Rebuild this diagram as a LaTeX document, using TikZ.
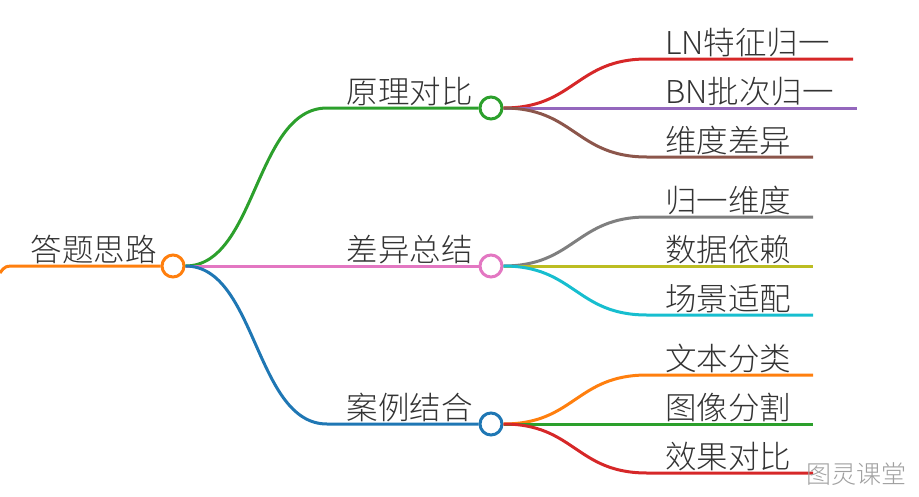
\documentclass[tikz,border=0pt]{standalone}
\usepackage{fontspec}
\setmainfont{Noto Sans CJK SC}[UprightFont=* Light]
\usetikzlibrary{positioning}

\definecolor{cOrange}{HTML}{FF7F0E}
\definecolor{cGreen}{HTML}{2CA02C}
\definecolor{cBlue}{HTML}{1F77B4}
\definecolor{cPink}{HTML}{E377C2}
\definecolor{cRed}{HTML}{D62728}
\definecolor{cPurple}{HTML}{9467BD}
\definecolor{cBrown}{HTML}{8C564B}
\definecolor{cGrey}{HTML}{7F7F7F}
\definecolor{cOlive}{HTML}{BCBD22}
\definecolor{cCyan}{HTML}{17BECF}
\definecolor{cText}{HTML}{333333}
\definecolor{cMark}{HTML}{A0A0A0}

\tikzstyle{hub} = [circle, draw, line width=3pt, fill=white, minimum size=22pt, inner sep=0pt]
\tikzstyle{topic} = [inner sep=0pt, text=cText, font=\fontsize{31.5}{36}\selectfont]
\tikzstyle{branch} = [line width=3pt]

\begin{document}
\begin{tikzpicture}[x=1pt, y=-1pt]
    \useasboundingbox (0,0) rectangle (919,496);

    \node [hub, draw=cOrange] (root) at (173,266) {};
    \node [topic, anchor=base east] (rootlbl) at (157,261) {答题思路};
    \coordinate (tail) at (0,273);
    \draw [branch, cOrange] (tail) .. controls (5,266) .. (18,266) -- (root.west);

    \node [hub, draw=cGreen] (yuanli) at (491,108) {};
    \node [hub, draw=cPink] (chayi) at (491,266) {};
    \node [hub, draw=cBlue] (anli) at (491,424) {};
    \node [topic, anchor=base east] (yuanlilbl) at (473,103) {原理对比};
    \node [topic, anchor=base east] (chayilbl) at (473,261) {差异总结};
    \node [topic, anchor=base east] (anlilbl) at (473,419) {案例结合};

    \coordinate (yuanliIn) at (327,108);
    \coordinate (anliIn) at (327,424);
    \draw [branch, cGreen] (root.east) .. controls +(71,0) and +(-72,0) .. (yuanliIn) -- (yuanli.west);
    \draw [branch, cPink] (root.east) -- (chayi.west);
    \draw [branch, cBlue] (root.east) .. controls +(71,0) and +(-72,0) .. (anliIn) -- (anli.west);

    % leaves of each topic
    \foreach \txt/\dy/\col/\xend [count=\i] in {LN特征归一/-49/cRed/853, BN批次归一/0/cPurple/857, 维度差异/49/cBrown/813} {
        \coordinate (ya\i) at (647,{108+\dy});
        \coordinate (yb\i) at (\xend,{108+\dy});
        \draw [branch, \col] (yuanli.east) .. controls +(71,0) and +(-71,0) .. (ya\i) -- (yb\i);
        \node [topic, anchor=base west] (yt\i) at (665,{108+\dy-5}) {\txt};
    }
    \foreach \txt/\dy/\col [count=\i] in {归一维度/-49/cGrey, 数据依赖/0/cOlive, 场景适配/49/cCyan} {
        \coordinate (ca\i) at (647,{266+\dy});
        \coordinate (cb\i) at (813,{266+\dy});
        \draw [branch, \col] (chayi.east) .. controls +(71,0) and +(-71,0) .. (ca\i) -- (cb\i);
        \node [topic, anchor=base west] (ct\i) at (665,{266+\dy-5}) {\txt};
    }
    \foreach \txt/\dy/\col [count=\i] in {文本分类/-49/cOrange, 图像分割/0/cGreen, 效果对比/49/cRed} {
        \coordinate (aa\i) at (647,{424+\dy});
        \coordinate (ab\i) at (813,{424+\dy});
        \draw [branch, \col] (anli.east) .. controls +(71,0) and +(-71,0) .. (aa\i) -- (ab\i);
        \node [topic, anchor=base west] (at\i) at (665,{424+\dy-5}) {\txt};
    }

    \node [inner sep=0pt, anchor=base west, text=cMark, font=\fontsize{25}{30}\selectfont] (mark) at (806,483) {图灵课堂};
\end{tikzpicture}
\end{document}
